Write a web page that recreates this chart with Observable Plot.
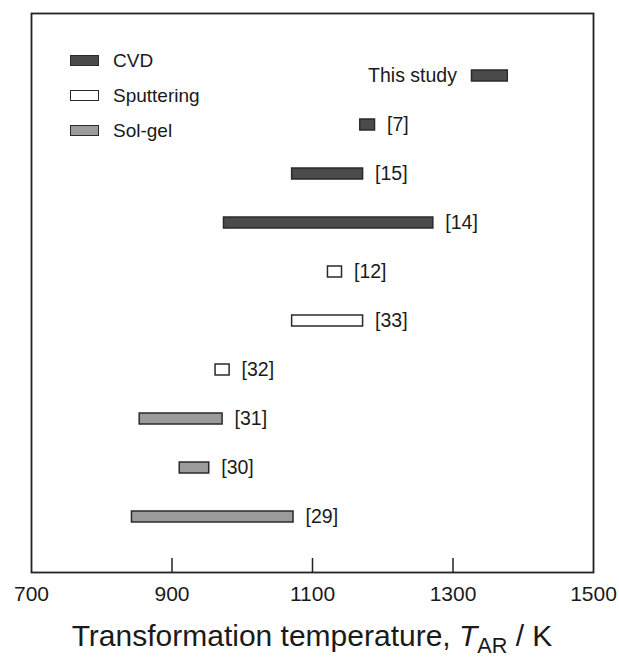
<!DOCTYPE html>
<html><head><meta charset="utf-8">
<script src="https://cdn.jsdelivr.net/npm/d3@7"></script>
<script src="https://cdn.jsdelivr.net/npm/@observablehq/plot@0.6"></script>
<style>
body{margin:0;background:#fff;font-family:"Liberation Sans",Arial,sans-serif;}
#wrap{position:relative;width:619px;height:657px;}
#legend{position:absolute;left:70px;top:43px;}
.item{display:flex;align-items:center;height:35px;font-size:19px;color:#1a1a1a;}
.sw{box-sizing:border-box;width:29px;height:11px;border:1.5px solid #2a2a2a;margin-right:14px;}
#xlabel{position:absolute;left:21px;width:582px;top:621px;text-align:center;font-size:30px;line-height:30px;color:#1a1a1a;white-space:nowrap;}
#xlabel .sub{font-size:0.72em;position:relative;top:0.32em;}
</style></head><body>
<div id="wrap"><div id="chart"></div><div id="legend"></div>
<div id="xlabel">Transformation temperature, <i>T</i><span class="sub">AR</span> / K</div></div>
<script>
const refs = ["This study","[7]","[15]","[14]","[12]","[33]","[32]","[31]","[30]","[29]"];
const lows = [1327,1168,1071,974,1122,1071,962,854,911,843];
const highs = [1378,1189,1172,1272,1142,1172,982,972,953,1073];
const methods = ["CVD","CVD","CVD","CVD","Sputtering","Sputtering","Sputtering","Sol-gel","Sol-gel","Sol-gel"];
const methodNames = ["CVD","Sputtering","Sol-gel"];
const methodFills = ["#4b4b4b","#ffffff","#9b9b9b"];
const xTicks = [700,900,1100,1300,1500];

const data = refs.map((r,i)=>({ref:r, lo:lows[i], hi:highs[i], method:methods[i]}));

const plot = Plot.plot({
  width:619, height:612, marginLeft:31, marginRight:26, marginTop:13, marginBottom:40,
  style:{fontFamily:"'Liberation Sans', Arial, sans-serif", fontSize:"21px", color:"#1a1a1a", background:"#fff"},
  x:{domain:[700,1500]},
  y:{domain:refs, paddingInner:0.7685, paddingOuter:1.0117, align:0.53, axis:null},
  color:{domain:methodNames, range:methodFills},
  marks:[
    Plot.axisX({ticks:xTicks, tickSize:0, tickPadding:14, tickFormat:d=>String(d), fontSize:21, label:null}),
    Plot.axisX({ticks:xTicks.slice(1,-1), tickSize:14, dy:-14, text:null, stroke:"#222", strokeWidth:1.5, label:null}),
    Plot.barX(data, {y:"ref", x1:"lo", x2:"hi", fill:"method", stroke:"#2a2a2a", strokeWidth:1.5}),
    Plot.text(data.filter(d=>d.ref!=="This study"), {y:"ref", x:"hi", text:"ref", dx:12, textAnchor:"start", fontSize:19.5, fill:"#1a1a1a"}),
    Plot.text(data.filter(d=>d.ref==="This study"), {y:"ref", x:"lo", text:"ref", dx:-15, textAnchor:"end", fontSize:19.5, fill:"#1a1a1a"}),
    Plot.frame({stroke:"#222", strokeWidth:1.8})
  ]
});
document.getElementById("chart").appendChild(plot);

const legend = document.getElementById("legend");
methodNames.forEach((m,i)=>{
  const it = document.createElement("div"); it.className="item";
  const sw = document.createElement("div"); sw.className="sw"; sw.style.background=methodFills[i];
  const t = document.createElement("span"); t.textContent=m;
  it.appendChild(sw); it.appendChild(t); legend.appendChild(it);
});
</script>
</body></html>
